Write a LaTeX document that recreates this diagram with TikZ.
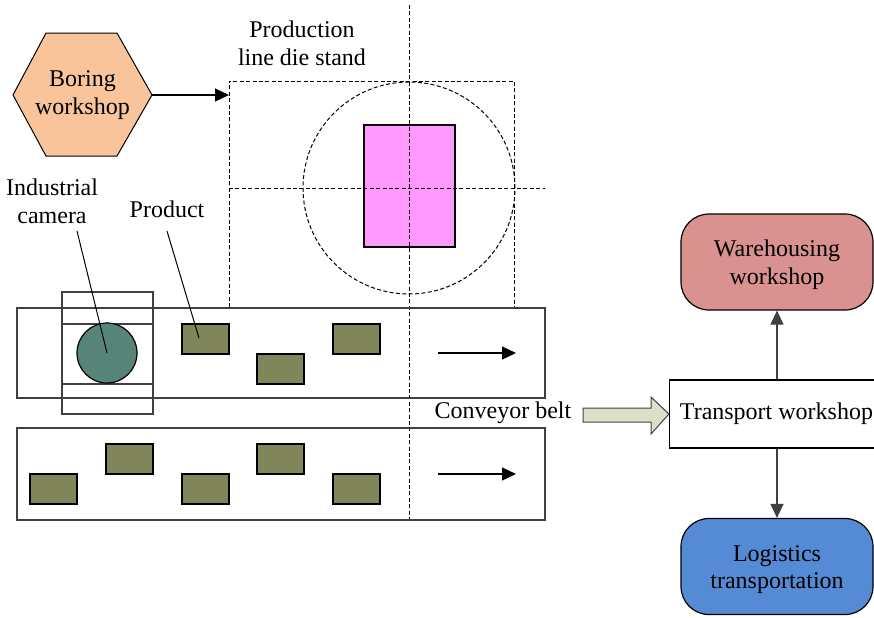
\documentclass[tikz,border=0pt]{standalone}
\usepackage{fontspec}
\setmainfont{Liberation Serif}
\usetikzlibrary{arrows.meta}

\definecolor{hexfill}{HTML}{F9C49A}
\definecolor{camfill}{HTML}{578479}
\definecolor{prodfill}{HTML}{80865A}
\definecolor{diefill}{HTML}{FF99FF}
\definecolor{warefill}{HTML}{D9928F}
\definecolor{logifill}{HTML}{558AD5}
\definecolor{blockfill}{HTML}{DDE0C8}
\definecolor{edge}{HTML}{404040}

\tikzset{
  tip/.style={-{Triangle[length=7pt,width=6.5pt]}},
  thin line/.style={draw=edge,line width=0.6pt},
  guide/.style={draw=black,line width=0.5pt,dash pattern=on 2pt off 1.2pt},
  belt/.style={thin line,rectangle,inner sep=0pt,minimum width=264pt},
  prod/.style={draw=black,line width=0.6pt,fill=prodfill,rectangle,inner sep=0pt,
               minimum width=23.5pt,minimum height=15pt},
  label/.style={align=center,inner sep=0pt},
  hub/.style={rectangle,rounded corners=14pt,draw=black,line width=0.6pt,
              minimum width=96pt,minimum height=48pt,align=center,inner sep=0pt},
}

\begin{document}
\begin{tikzpicture}[x=0.5pt,y=-0.5pt,font=\fontsize{12}{14}\selectfont]
\useasboundingbox (0,0) rectangle (874,617);
\clip (0,0) rectangle (874,617);

% die stand: dashed frame, circle and cross hairs
\draw[guide] (229,307) -- (229,81) -- (514,81) -- (514,307);
\node[rectangle,draw=black,line width=0.6pt,fill=diefill,inner sep=0pt,
      minimum width=45.5pt,minimum height=61pt] (die) at (409.5,186) {};
\draw[guide] (409,188) circle [radius=53pt];
\draw[guide] (409,5) -- (409,520);
\draw[guide] (229,188) -- (545,188);
\node[label] (dietext) at (302,43) {Production\\line die stand};

% boring workshop: hexagon outline around a text node of the same extent
\draw[line width=0.5pt,fill=hexfill]
  (13,95) -- (46,33) -- (117,33) -- (152,95) -- (117,156) -- (46,156) -- cycle;
\node[label,minimum width=69.5pt,minimum height=61.5pt] (boring) at (82.5,95)
      {Boring\\workshop};
\draw[tip,line width=0.6pt] (boring.east) -- (229,95);

% conveyor belts
\node[belt,minimum height=45pt] (belt1) at (281,353) {};
\node[belt,minimum height=46pt] (belt2) at (281,474) {};

% industrial camera frame
\draw[thin line] (62,292) rectangle (153,414);
\draw[thin line] (62,324) -- (153,324);
\draw[thin line] (62,384) -- (153,384);
\node[circle,draw=black,line width=0.6pt,fill=camfill,minimum size=30pt,inner sep=0pt]
      (cam) at (107,353) {};

% products on the belts
\node[prod] (p1) at (205.5,339) {};
\node[prod] (p2) at (280.5,369) {};
\node[prod] (p3) at (356.5,339) {};
\node[prod] (q1) at (53.5,489) {};
\node[prod] (q2) at (129.5,459) {};
\node[prod] (q3) at (205.5,489) {};
\node[prod] (q4) at (280.5,459) {};
\node[prod] (q5) at (356.5,489) {};

% direction of travel
\coordinate (a1s) at (438,353); \coordinate (a1e) at (516,353);
\coordinate (a2s) at (438,474); \coordinate (a2e) at (516,474);
\draw[tip,line width=0.6pt] (a1s) -- (a1e);
\draw[tip,line width=0.6pt] (a2s) -- (a2e);

% labels with leaders
\node[label] (camtext) at (52,201) {Industrial\\camera};
\node[label] (prodtext) at (167,209) {Product};
\coordinate (camlead) at (77,231);
\coordinate (prodlead) at (167,231);
\draw[line width=0.5pt] (camlead) -- (cam.center);
\draw[line width=0.5pt] (prodlead) -- (199,338);
\node[label] (belttext) at (503,413) {Conveyor belt};

% downstream workshops
\node[rectangle,draw=black,line width=0.6pt,minimum width=107pt,minimum height=34pt,
      inner sep=0pt] (trans) at (776.5,414) {Transport workshop};
\node[hub,fill=warefill] (ware) at (777,262)
      {\raisebox{-1.5pt}[\height][\depth]{\shortstack{Warehousing\\workshop}}};
\node[hub,fill=logifill] (logi) at (777,566.5)
      {\raisebox{-1.5pt}[\height][\depth]{\shortstack{Logistics\\transportation}}};
\draw[tip,line width=0.6pt,draw=edge] (trans.north -| ware.south) -- (ware.south);
\draw[tip,line width=0.6pt,draw=edge] (trans.south -| logi.north) -- (logi.north);

% block arrow from the belts to transport
\draw[line width=0.5pt,fill=blockfill,draw=edge]
  (583,408) -- (651,408) -- (651,397) -- (trans.west) -- (651,434) -- (651,422)
  -- (583,422) -- cycle;
\end{tikzpicture}
\end{document}
